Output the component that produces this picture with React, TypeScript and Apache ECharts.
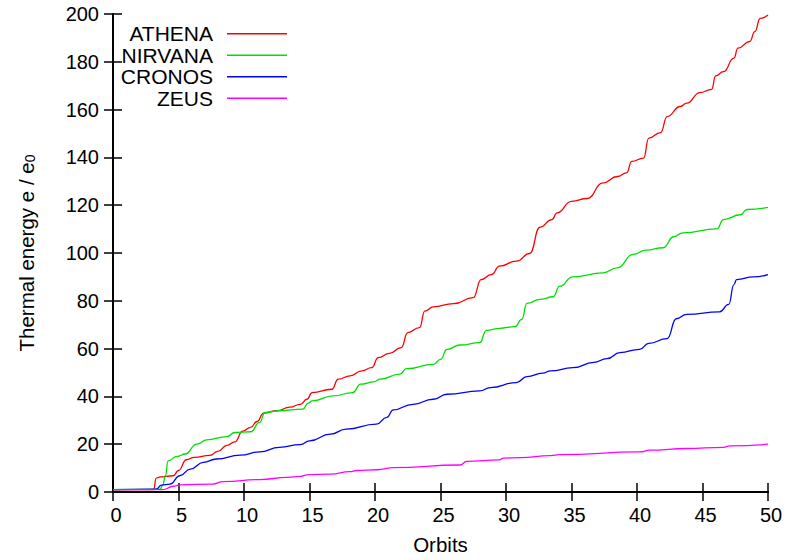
import React, { useEffect, useRef } from "react";
import * as echarts from "echarts";

// Thermal energy (e / e0) versus orbit count for four runs.
const athena: [number, number][] = [
  [0, 1], [3.1, 1], [3.3, 5.8], [3.6, 6.3], [4.6, 6.8], [5.0, 9], [5.6, 13.5], [6.2, 14.5],
  [7.4, 15.3], [8, 17], [8.7, 19.5], [9.3, 21], [9.9, 25.5], [10.5, 27], [11, 29.5], [11.5, 33],
  [12.5, 34], [13.5, 35.5], [14.3, 36.7], [14.8, 38.8], [15.2, 41.6], [16.7, 43], [17.2, 47.2],
  [18.1, 48.6], [19.0, 50.7], [19.75, 52], [20.25, 56.2], [21.1, 58], [22.0, 60.4], [22.5, 66.7],
  [23.4, 68.8], [23.8, 75.7], [24.45, 77.5], [26.0, 78.8], [27.5, 81.3], [28.1, 88.9], [28.9, 91],
  [29.5, 94.5], [30.8, 96.6], [31.8, 99.8], [32.6, 110.8], [33.5, 114], [33.9, 116.8], [35.0, 121.6],
  [36.2, 122.8], [37.4, 129.3], [38.5, 132], [39.2, 133.5], [39.6, 138.3], [40.5, 139.7], [40.9, 148.1],
  [41.8, 150.4], [42.3, 157.1], [43.3, 161.3], [43.8, 162.7], [44.8, 167.1], [45.7, 168.5], [46.0, 174.1],
  [46.6, 175.9], [47.4, 181.5], [47.7, 185.7], [48.6, 188.5], [49.0, 192.6], [49.4, 198.2], [50, 199.6],
];

const nirvana: [number, number][] = [
  [0, 1], [3.6, 1.2], [3.8, 3], [4.0, 6.8], [4.2, 13], [4.9, 14.9], [5.5, 15.9], [6.4, 20],
  [7.15, 21.8], [8.7, 23.2], [9.3, 24.9], [10.5, 25.2], [11.2, 29.1], [11.6, 33.3], [12.7, 34],
  [14.5, 34.7], [14.9, 37.2], [15.2, 38.1], [16.8, 40.2], [18.3, 41.6], [18.9, 45.1], [19.9, 46.1],
  [20.4, 47.2], [21.9, 49.3], [22.4, 51.6], [24.45, 53.4], [25.0, 55.5], [25.5, 59.7], [26.5, 61.5],
  [28.0, 62.5], [28.5, 67.6], [29.5, 68.5], [30.7, 69.2], [31.2, 72.2], [31.6, 78.9], [32.6, 80.6],
  [33.6, 81.7], [34.1, 86.1], [35.1, 90], [37.4, 91.7], [38.5, 93.8], [39.7, 99.4], [40.7, 101.2],
  [42.0, 102.2], [42.8, 106.8], [43.5, 108.4], [46.1, 110.1], [46.6, 114], [47.9, 116], [48.4, 118.2],
  [50, 119.1],
];

const cronos: [number, number][] = [
  [0, 1], [3.3, 1.2], [3.7, 2.9], [4.35, 3.3], [5.1, 6.8], [5.9, 9.6], [6.9, 12.4], [7.9, 13.8],
  [9.7, 15.4], [11.2, 16.8], [12.7, 18.7], [14.3, 19.8], [15.0, 21.4], [16.6, 24.2], [17.8, 26.3],
  [20.1, 28.4], [20.9, 31.2], [21.4, 34.4], [22.9, 36.7], [24.45, 38.8], [25.5, 40.9], [28.0, 42.3],
  [28.8, 43.7], [30.8, 45.8], [31.6, 48.3], [32.8, 49.7], [33.4, 50.7], [35.1, 52], [36.7, 54.2],
  [37.7, 55.8], [38.7, 58.3], [40.2, 59.7], [40.9, 62.2], [42.3, 64.2], [43.0, 72.5], [43.8, 74.3],
  [46.3, 75.4], [47.0, 78.5], [47.4, 86.8], [47.6, 88.9], [48.9, 90], [50, 91],
];

const zeus: [number, number][] = [
  [0, 1], [3.8, 1], [4.6, 2.4], [5.1, 3], [7.6, 3.3], [8.4, 4.3], [11.2, 5.2], [13.3, 6.1],
  [14.3, 6.5], [14.8, 7.2], [16.6, 7.5], [18.1, 8.5], [18.6, 9], [20.2, 9.3], [21.4, 10.2],
  [26.5, 11.3], [27.0, 12.8], [29.5, 13.4], [29.8, 14.2], [31.1, 14.4], [33.4, 15.2], [34.1, 15.6],
  [40.2, 16.8], [41.0, 17.5], [43.8, 18.2], [46.6, 18.7], [47.1, 19.3], [50, 20],
];

const seriesNames = ["ATHENA", "NIRVANA", "CRONOS", "ZEUS"];
const seriesData = [athena, nirvana, cronos, zeus];
const seriesColors = ["#ff0000", "#00e000", "#0000ff", "#ff00ff"];

const xMin = 0;
const xMax = 50;
const xStep = 5;
const yMin = 0;
const yMax = 200;
const yStep = 20;

const FONT = "'Liberation Sans', Arial, Helvetica, sans-serif";

export default function App() {
  const ref = useRef<HTMLDivElement>(null);

  useEffect(() => {
    if (!ref.current) return;
    const chart = echarts.init(ref.current, null, { renderer: "svg" });

    const frameLine = { show: true, lineStyle: { color: "#000", width: 2 } };
    const innerTick = { show: true, inside: true, length: 9, lineStyle: { color: "#000", width: 1.5 } };

    chart.setOption({
      animation: false,
      backgroundColor: "#fff",
      textStyle: { fontFamily: FONT, color: "#000" },
      grid: { left: 113, right: 21, top: 14, bottom: 67 },
      legend: {
        orient: "vertical",
        align: "right",
        right: 497,
        top: 18,
        itemWidth: 60,
        itemHeight: 1.5,
        itemGap: 0,
        icon: "rect",
        selectedMode: false,
        data: seriesNames,
        textStyle: { fontFamily: FONT, fontSize: 21, color: "#000", lineHeight: 21.5, padding: [0, 9, 0, 0] },
      },
      xAxis: [
        {
          type: "value",
          min: xMin,
          max: xMax,
          interval: xStep,
          name: "Orbits",
          nameLocation: "middle",
          nameGap: 42,
          nameTextStyle: { fontFamily: FONT, fontSize: 20.5, color: "#000" },
          axisLine: frameLine,
          axisTick: innerTick,
          axisLabel: { fontFamily: FONT, fontSize: 20, color: "#000", margin: 13, padding: [0, 0, 0, 6] },
          splitLine: { show: false },
        },
        {
          type: "value",
          position: "top",
          min: xMin,
          max: xMax,
          interval: xStep,
          axisLine: frameLine,
          axisTick: innerTick,
          axisLabel: { show: false },
          splitLine: { show: false },
        },
      ],
      yAxis: [
        {
          type: "value",
          min: yMin,
          max: yMax,
          interval: yStep,
          name: "{a|Thermal energy e / e}{s|0}",
          nameLocation: "middle",
          nameRotate: 90,
          nameGap: 76,
          nameTextStyle: {
            fontFamily: FONT,
            color: "#000",
            rich: {
              a: { fontFamily: FONT, fontSize: 20.5, lineHeight: 28, verticalAlign: "bottom", color: "#000" },
              s: { fontFamily: FONT, fontSize: 14, lineHeight: 14, verticalAlign: "bottom", color: "#000" },
            },
          },
          axisLine: frameLine,
          axisTick: innerTick,
          axisLabel: { fontFamily: FONT, fontSize: 20, color: "#000", margin: 14 },
          splitLine: { show: false },
        },
        {
          type: "value",
          position: "right",
          min: yMin,
          max: yMax,
          interval: yStep,
          axisLine: frameLine,
          axisTick: innerTick,
          axisLabel: { show: false },
          splitLine: { show: false },
        },
      ],
      series: seriesNames.map((name, i) => ({
        name,
        type: "line",
        data: seriesData[i],
        xAxisIndex: 0,
        yAxisIndex: 0,
        showSymbol: false,
        symbol: "none",
        smooth: 0.5,
        smoothMonotone: "x",
        color: seriesColors[i],
        lineStyle: { color: seriesColors[i], width: 1.3 },
        z: 2 + i,
      })),
    });

    return () => chart.dispose();
  }, []);

  return <div ref={ref} style={{ width: 789, height: 560, position: "absolute", left: 0, top: 0 }} />;
}
